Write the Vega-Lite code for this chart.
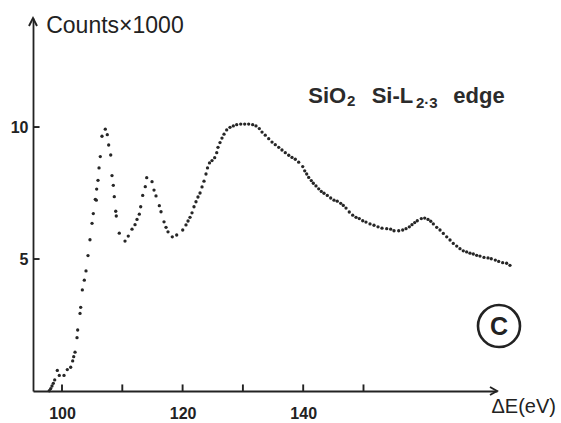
{
  "$schema": "https://vega.github.io/schema/vega-lite/v6.json",
  "width": 464,
  "height": 373,
  "autosize": "none",
  "padding": {"left": 33, "top": 18, "right": 64, "bottom": 32},
  "background": "#ffffff",
  "config": {"view": {"stroke": null}, "axis": {"grid": false}},
  "datasets": {
    "spectrum": [
      {"energy":97.89,"counts":0.01},{"energy":98.13,"counts":0.09},{"energy":98.34,"counts":0.19},{"energy":98.56,"counts":0.29},{"energy":98.79,"counts":0.42},
      {"energy":99.22,"counts":0.78},{"energy":99.55,"counts":0.59},{"energy":100.33,"counts":0.59},{"energy":100.88,"counts":0.81},{"energy":101.44,"counts":0.90},
      {"energy":101.77,"counts":1.14},{"energy":101.94,"counts":1.30},{"energy":102.16,"counts":1.47},{"energy":102.49,"counts":2.02},{"energy":102.60,"counts":2.31},
      {"energy":102.99,"counts":2.94},{"energy":103.10,"counts":3.17},{"energy":103.37,"counts":3.83},{"energy":103.70,"counts":4.20},{"energy":103.98,"counts":4.55},
      {"energy":104.31,"counts":5.13},{"energy":104.64,"counts":5.73},{"energy":104.98,"counts":6.35},{"energy":105.19,"counts":6.72},{"energy":105.52,"counts":7.26},
      {"energy":105.69,"counts":7.23},{"energy":105.75,"counts":7.65},{"energy":105.97,"counts":7.98},{"energy":106.14,"counts":8.45},{"energy":106.35,"counts":8.88},
      {"energy":106.63,"counts":9.65},{"energy":107.18,"counts":9.92},{"energy":107.51,"counts":9.71},{"energy":107.74,"counts":9.32},{"energy":108.08,"counts":8.94},
      {"energy":108.29,"counts":8.16},{"energy":108.51,"counts":7.79},{"energy":108.67,"counts":7.36},{"energy":108.91,"counts":6.81},{"energy":109.00,"counts":6.63},
      {"energy":109.50,"counts":5.98},{"energy":110.45,"counts":5.68},{"energy":110.99,"counts":5.87},{"energy":111.61,"counts":6.13},{"energy":112.11,"counts":6.30},
      {"energy":112.44,"counts":6.50},{"energy":112.82,"counts":6.70},{"energy":113.05,"counts":6.98},{"energy":113.38,"counts":7.41},{"energy":113.81,"counts":7.74},
      {"energy":114.05,"counts":8.08},{"energy":114.93,"counts":7.93},{"energy":115.26,"counts":7.61},{"energy":115.59,"counts":7.39},{"energy":116.14,"counts":7.02},
      {"energy":116.42,"counts":6.79},{"energy":116.92,"counts":6.41},{"energy":117.25,"counts":6.20},{"energy":117.58,"counts":6.03},{"energy":118.29,"counts":5.84},
      {"energy":119.02,"counts":5.91},{"energy":120.02,"counts":6.10},{"energy":120.56,"counts":6.29},{"energy":120.90,"counts":6.44},{"energy":121.23,"counts":6.58},
      {"energy":121.56,"counts":6.75},{"energy":121.89,"counts":6.98},{"energy":122.22,"counts":7.17},{"energy":122.55,"counts":7.35},{"energy":122.89,"counts":7.50},
      {"energy":123.22,"counts":7.73},{"energy":123.55,"counts":7.95},{"energy":123.88,"counts":8.22},{"energy":124.13,"counts":8.45},{"energy":124.46,"counts":8.64},
      {"energy":124.88,"counts":8.73},{"energy":125.32,"counts":8.84},{"energy":125.66,"counts":9.03},{"energy":125.87,"counts":9.23},{"energy":126.20,"counts":9.41},
      {"energy":126.53,"counts":9.58},{"energy":126.87,"counts":9.73},{"energy":127.31,"counts":9.89},{"energy":127.86,"counts":9.99},{"energy":128.41,"counts":10.04},
      {"energy":128.97,"counts":10.09},{"energy":129.64,"counts":10.11},{"energy":130.30,"counts":10.11},{"energy":130.96,"counts":10.11},{"energy":131.62,"counts":10.09},
      {"energy":132.17,"counts":10.04},{"energy":132.72,"counts":9.94},{"energy":133.17,"counts":9.81},{"energy":133.71,"counts":9.69},{"energy":134.28,"counts":9.56},
      {"energy":134.83,"counts":9.43},{"energy":135.37,"counts":9.33},{"energy":135.94,"counts":9.23},{"energy":136.48,"counts":9.13},{"energy":137.03,"counts":9.03},
      {"energy":137.60,"counts":8.93},{"energy":138.14,"counts":8.85},{"energy":138.69,"counts":8.78},{"energy":139.25,"counts":8.67},{"energy":139.92,"counts":8.50},
      {"energy":140.25,"counts":8.34},{"energy":140.58,"counts":8.22},{"energy":140.91,"counts":8.09},{"energy":141.34,"counts":7.97},{"energy":141.68,"counts":7.87},
      {"energy":142.12,"counts":7.77},{"energy":142.57,"counts":7.66},{"energy":143.00,"counts":7.56},{"energy":143.45,"counts":7.49},{"energy":144.00,"counts":7.41},
      {"energy":144.56,"counts":7.31},{"energy":145.11,"counts":7.23},{"energy":145.65,"counts":7.19},{"energy":146.22,"counts":7.11},{"energy":146.65,"counts":7.03},
      {"energy":147.10,"counts":6.93},{"energy":147.64,"counts":6.78},{"energy":148.21,"counts":6.66},{"energy":148.76,"counts":6.58},{"energy":149.30,"counts":6.53},
      {"energy":149.87,"counts":6.45},{"energy":150.41,"counts":6.40},{"energy":151.08,"counts":6.33},{"energy":151.74,"counts":6.28},{"energy":152.41,"counts":6.22},
      {"energy":153.07,"counts":6.17},{"energy":153.85,"counts":6.15},{"energy":154.51,"counts":6.13},{"energy":155.06,"counts":6.07},{"energy":155.84,"counts":6.07},
      {"energy":156.50,"counts":6.10},{"energy":157.05,"counts":6.15},{"energy":157.60,"counts":6.22},{"energy":158.04,"counts":6.30},{"energy":158.49,"counts":6.38},
      {"energy":158.92,"counts":6.45},{"energy":159.59,"counts":6.53},{"energy":160.15,"counts":6.55},{"energy":160.70,"counts":6.50},{"energy":161.15,"counts":6.43},
      {"energy":161.58,"counts":6.33},{"energy":162.14,"counts":6.20},{"energy":162.69,"counts":6.10},{"energy":163.24,"counts":5.97},{"energy":163.80,"counts":5.84},
      {"energy":164.35,"counts":5.72},{"energy":164.89,"counts":5.59},{"energy":165.46,"counts":5.49},{"energy":166.00,"counts":5.39},{"energy":166.55,"counts":5.31},
      {"energy":167.11,"counts":5.27},{"energy":167.66,"counts":5.22},{"energy":168.21,"counts":5.19},{"energy":168.77,"counts":5.14},{"energy":169.32,"counts":5.11},
      {"energy":169.98,"counts":5.06},{"energy":170.65,"counts":5.04},{"energy":171.19,"counts":5.01},{"energy":171.86,"counts":4.96},{"energy":172.42,"counts":4.91},
      {"energy":173.08,"counts":4.86},{"energy":173.74,"counts":4.84},{"energy":174.29,"counts":4.76}
    ],
    "guides": [
      {"energy":172.14,"counts":0,"kind":"x arrow"},
      {"energy":95.19,"counts":14.13,"kind":"y arrow"},
      {"energy":100,"counts":0,"kind":"x tick"},
      {"energy":110,"counts":0,"kind":"x tick"},
      {"energy":120,"counts":0,"kind":"x tick"},
      {"energy":130,"counts":0,"kind":"x tick"},
      {"energy":140,"counts":0,"kind":"x tick"},
      {"energy":150,"counts":0,"kind":"x tick"},
      {"energy":95.19,"counts":5,"kind":"y tick"},
      {"energy":95.19,"counts":10,"kind":"y tick"}
    ],
    "label": [
      {"energy":140.85,"counts":10.90,"piece":"SiO"},
      {"energy":151.36,"counts":10.90,"piece":"Si-L"},
      {"energy":164.89,"counts":10.90,"piece":"edge"}
    ],
    "subscript": [
      {"energy":147.26,"counts":10.78,"piece":"2"},
      {"energy":158.71,"counts":10.72,"piece":"2·3"}
    ],
    "panel": [
      {"energy":172.47,"counts":2.46,"piece":"C"}
    ]
  },
  "layer": [
    {
      "data": {"name": "spectrum"},
      "mark": {"type": "point", "filled": true, "size": 11, "color": "#262626", "opacity": 1},
      "encoding": {
        "x": {
          "field": "energy", "type": "quantitative",
          "scale": {"domain": [95.19, 172.14], "nice": false, "zero": false},
          "axis": {
            "values": [100, 120, 140],
            "ticks": false,
            "domainColor": "#222222", "domainWidth": 1.8,
            "labelFont": "Liberation Sans", "labelFontWeight": "bold", "labelFontSize": 16,
            "labelColor": "#222222", "labelPadding": 14, "labelFlush": false, "labelOverlap": false,
            "title": "ΔE(eV)", "titleFont": "Liberation Sans", "titleFontWeight": "normal",
            "titleFontSize": 20, "titleColor": "#222222",
            "titleX": 458, "titleY": 15, "titleAlign": "left", "titleBaseline": "middle", "titleAngle": 0
          }
        },
        "y": {
          "field": "counts", "type": "quantitative",
          "scale": {"domain": [0, 14.13], "nice": false, "zero": false},
          "axis": {
            "values": [5, 10],
            "ticks": false,
            "domainColor": "#222222", "domainWidth": 1.8,
            "labelFont": "Liberation Sans", "labelFontWeight": "bold", "labelFontSize": 16,
            "labelColor": "#222222", "labelPadding": 5, "labelFlush": false, "labelOverlap": false,
            "title": "Counts×1000", "titleFont": "Liberation Sans", "titleFontWeight": "normal",
            "titleFontSize": 23, "titleColor": "#222222",
            "titleX": 12.7, "titleY": 7, "titleAlign": "left", "titleBaseline": "middle", "titleAngle": 0
          }
        }
      }
    },
    {
      "data": {"name": "guides"},
      "mark": {"type": "point", "filled": false, "size": 256, "strokeWidth": 1.9, "color": "#222222", "opacity": 1},
      "encoding": {
        "x": {"field": "energy", "type": "quantitative"},
        "y": {"field": "counts", "type": "quantitative"},
        "shape": {
          "field": "kind", "type": "nominal", "legend": null,
          "scale": {
            "domain": ["x arrow", "y arrow", "x tick", "y tick"],
            "range": ["M -0.875 -0.5 L 0 0 L -0.875 0.5", "M -0.5 1 L 0 0 L 0.5 1", "M 0 0 L 0 -0.82", "M 0 0 L 0.82 0"]
          }
        }
      }
    },
    {
      "data": {"name": "label"},
      "mark": {"type": "text", "align": "left", "baseline": "alphabetic", "font": "Liberation Sans", "fontWeight": "bold", "fontSize": 22, "color": "#2b2b2b"},
      "encoding": {
        "x": {"field": "energy", "type": "quantitative"},
        "y": {"field": "counts", "type": "quantitative"},
        "text": {"field": "piece"}
      }
    },
    {
      "data": {"name": "subscript"},
      "mark": {"type": "text", "align": "left", "baseline": "alphabetic", "font": "Liberation Sans", "fontWeight": "bold", "fontSize": 15, "color": "#2b2b2b"},
      "encoding": {
        "x": {"field": "energy", "type": "quantitative"},
        "y": {"field": "counts", "type": "quantitative"},
        "text": {"field": "piece"}
      }
    },
    {
      "data": {"name": "panel"},
      "mark": {"type": "point", "shape": "circle", "filled": false, "size": 1764, "strokeWidth": 2.6, "color": "#222222", "opacity": 1},
      "encoding": {
        "x": {"field": "energy", "type": "quantitative"},
        "y": {"field": "counts", "type": "quantitative"}
      }
    },
    {
      "data": {"name": "panel"},
      "mark": {"type": "text", "align": "center", "baseline": "middle", "font": "Liberation Sans", "fontWeight": "bold", "fontSize": 25, "color": "#222222", "dy": 1},
      "encoding": {
        "x": {"field": "energy", "type": "quantitative"},
        "y": {"field": "counts", "type": "quantitative"},
        "text": {"field": "piece"}
      }
    }
  ]
}
